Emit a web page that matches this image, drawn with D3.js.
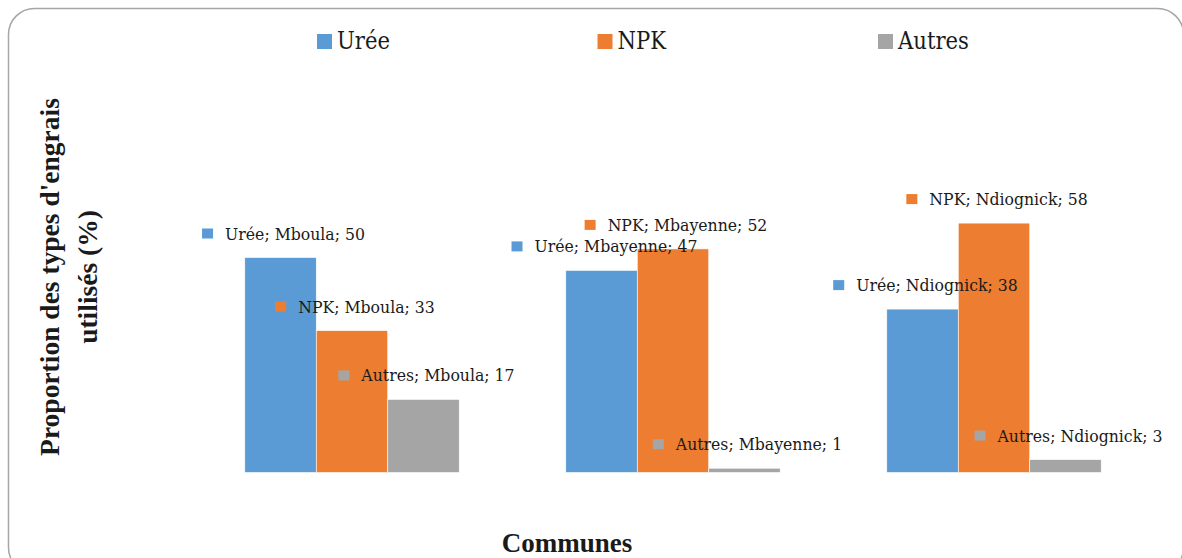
<!DOCTYPE html>
<html>
<head>
<meta charset="utf-8">
<script src="https://cdn.jsdelivr.net/npm/d3@7"></script>
<style>
  html, body { margin: 0; padding: 0; background: #fff; }
  svg { display: block; }
</style>
</head>
<body>
<svg id="chart"></svg>
<script>
const width = 1182, height = 558;
const FONT = "'DejaVu Serif Condensed', 'DejaVu Serif', serif";
const FONT_BOLD = "'Liberation Serif', 'Times New Roman', serif";

// data
const communes = ["Mboula", "Mbayenne", "Ndiognick"];
const series   = ["Urée", "NPK", "Autres"];
const uree     = [50, 47, 38];
const npk      = [33, 52, 58];
const autres   = [17, 1, 3];
const colors   = ["#5B9BD5", "#ED7D31", "#A5A5A5"];

const values = [uree, npk, autres];
const rows = communes.map((c, i) => ({
	commune: c,
	items: series.map((s, j) => ({ serie: s, commune: c, value: values[j][i], color: colors[j] }))
}));

const svg = d3.select("svg#chart").attr('width', width).attr('height', height);

// pick a font size so that a sample string gets the wanted width
function fitSize(sample, target, family) {
	const t = svg.append('text').attr('font-family', family).attr('font-size', 100).text(sample);
	const w = t.node().getComputedTextLength();
	t.remove();
	return 100 * target / w;
}
const labelSize  = fitSize("Urée; Mboula; 50", 140, FONT);
const legendSize = fitSize("Urée", 53, FONT);

// frame
svg.append('rect')
	.attr('x', 8.5).attr('y', 8.5)
	.attr('width', 1175).attr('height', 565)
	.attr('rx', 26).attr('ry', 26)
	.attr('fill', 'none').attr('stroke', '#a6a6a6').attr('stroke-width', 1.5);

const x0 = d3.scaleBand().domain(communes).range([191.5, 1154.5]).paddingInner(0.332).paddingOuter(0.166);
const x1 = d3.scaleBand().domain(series).range([0, x0.bandwidth()]);
const y  = d3.scaleLinear().domain([0, 60]).range([472.5, 214.5]);

const groups = svg.append('g').selectAll('g')
	.data(rows)
	.join('g')
	.attr('transform', d => `translate(${x0(d.commune)},0)`);

groups.selectAll('rect')
	.data(d => d.items)
	.join('rect')
	.attr('x', d => x1(d.serie))
	.attr('y', d => y(d.value))
	.attr('width', x1.bandwidth())
	.attr('height', d => y(0) - y(d.value))
	.attr('fill', d => d.color)
	.attr('stroke', '#ffffff').attr('stroke-width', 0.6);

// data labels: marker + "serie; commune; value", centred above each bar
const labels = groups.selectAll('g.lbl')
	.data(d => d.items)
	.join('g')
	.attr('class', 'lbl');

labels.append('rect')
	.attr('width', 11).attr('height', 10)
	.attr('y', -5)
	.attr('fill', d => d.color);

labels.append('text')
	.attr('x', 23)
	.attr('y', 6)
	.attr('font-family', FONT)
	.attr('font-size', labelSize)
	.attr('fill', '#1a1a1a')
	.text(d => `${d.serie}; ${d.commune}; ${d.value}`);

labels.attr('transform', function(d) {
	const w = 23 + d3.select(this).select('text').node().getComputedTextLength();
	const cx = x1(d.serie) + x1.bandwidth() / 2;
	return `translate(${cx - w / 2 + 3},${y(d.value) - 24})`;
});

// legend
const lx = d3.scalePoint().domain(series).range([317, 878]);
const legend = svg.append('g').selectAll('g')
	.data(series)
	.join('g')
	.attr('transform', d => `translate(${lx(d)},0)`);
legend.append('rect').attr('y', 34).attr('width', 15).attr('height', 15).attr('fill', (d, i) => colors[i]);
legend.append('text').attr('x', 20).attr('y', 49)
	.attr('font-family', FONT).attr('font-size', legendSize).attr('fill', '#1a1a1a')
	.text(d => d);

// axis titles
const yt = svg.append('text')
	.attr('transform', 'translate(0,277) rotate(-90)')
	.attr('text-anchor', 'middle')
	.attr('font-family', FONT_BOLD).attr('font-size', 27.5).attr('font-weight', 'bold').attr('fill', '#1a1a1a');
yt.append('tspan').attr('x', 0).attr('y', 59).text("Proportion des types d'engrais");
yt.append('tspan').attr('x', 0).attr('y', 97).text("utilisés (%)");

svg.append('text')
	.attr('x', 567).attr('y', 552)
	.attr('text-anchor', 'middle')
	.attr('font-family', FONT_BOLD).attr('font-size', 27).attr('font-weight', 'bold').attr('fill', '#1a1a1a')
	.text('Communes');
</script>
</body>
</html>
